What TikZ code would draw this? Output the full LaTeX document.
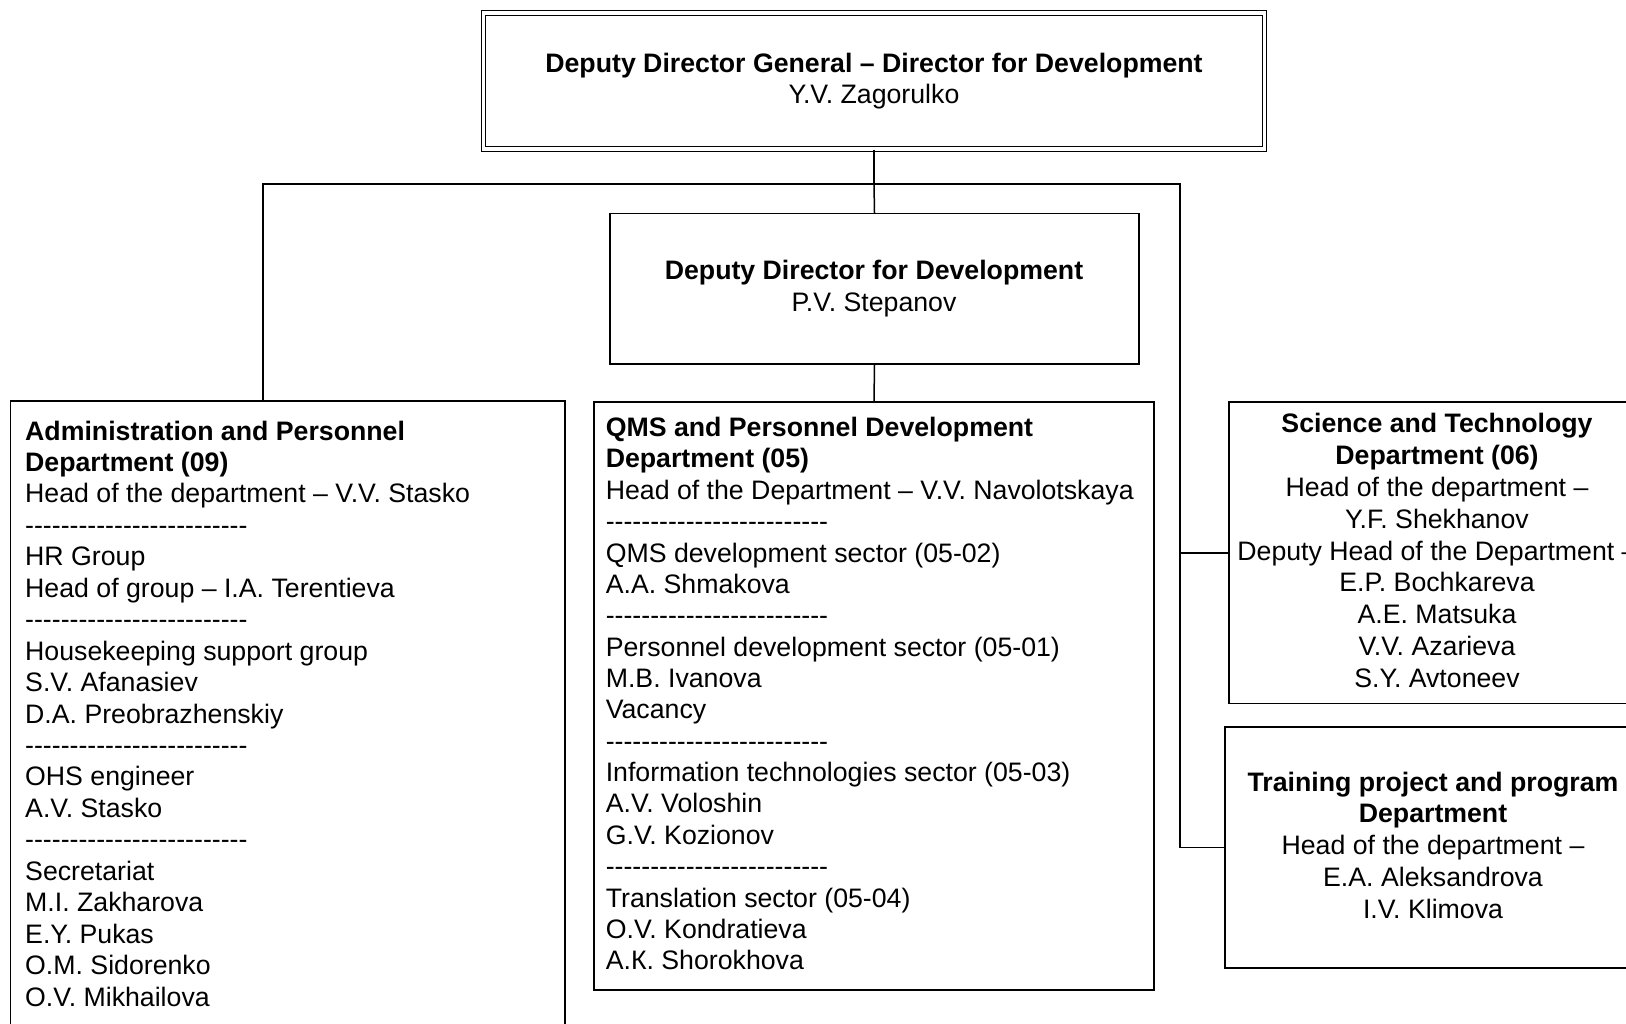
\documentclass[tikz,border=0pt]{standalone}
\usepackage{fontspec}
\setmainfont{Liberation Sans}
\newcommand\hy{-\kern0pt}
\newcommand\dashrow{\hy\hy\hy\hy\hy\hy\hy\hy\hy\hy\hy\hy\hy\hy\hy\hy\hy\hy\hy\hy\hy\hy\hy\hy\hy}
\tikzset{
  box/.style={draw, line width=1.5pt, rectangle, inner sep=0pt},
  txt/.style={inner sep=0pt, font=\fontsize{26.7}{31}\selectfont},
  btxt/.style={inner sep=0pt, font=\fontsize{26.7}{31}\selectfont\bfseries},
  conn/.style={draw, line width=1.5pt}
}
\begin{document}
\begin{tikzpicture}[x=1pt,y=-1pt]
\useasboundingbox (0,0) rectangle (1626,1024);
\clip (0,0) rectangle (1626,1024);
\fill[white] (0,0) rectangle (1626,1024);

% boxes
\node[box, double, double distance=3.5pt, line width=1.2pt, minimum width=781pt, minimum height=136pt] (top) at (874,81) {};
\node[box, minimum width=529pt, minimum height=150.4pt] (dep) at (874.5,288.8) {};
\node[box, minimum width=554.6pt, minimum height=700pt] (adm) at (287.7,751) {};
\node[box, minimum width=560pt, minimum height=588pt] (qms) at (874,696) {};
\node[box, minimum width=421pt, minimum height=301.5pt] (sci) at (1439.5,552.75) {};
\node[box, minimum width=425pt, minimum height=241pt] (trn) at (1437.5,847.5) {};

% connectors
\coordinate (jt) at (874,184);
\coordinate (jl) at (263,184);
\coordinate (jr) at (1180,184);
\draw[conn] (top.south) -- (jt);
\draw[conn] (jl |- adm.north) -- (jl) -- (jr) -- (jr |- trn.west) -- (trn.west);
\draw[conn] (jt) -- (dep.north);
\draw[conn] (dep.south) -- (qms.north);
\draw[conn] (jr |- sci.west) -- (sci.west);

% top texts
\node[btxt, anchor=base] (t1) at (874,72.6) {Deputy Director General – Director for Development};
\node[txt, anchor=base] (t2) at (874,103.7) {Y.V. Zagorulko};
\node[btxt, anchor=base] (d1) at (874,280) {Deputy Director for Development};
\node[txt, anchor=base] (d2) at (874,312) {P.V. Stepanov};

% admin
\foreach[count=\i] \s in {{\bfseries Administration and Personnel},{\bfseries Department (09)},
  Head of the department – V.V. Stasko,\dashrow,HR Group,Head of group – I.A. Terentieva,\dashrow,
  Housekeeping support group,S.V. Afanasiev,D.A. Preobrazhenskiy,\dashrow,OHS engineer,A.V. Stasko,\dashrow,
  Secretariat,M.I. Zakharova,E.Y. Pukas,O.M. Sidorenko,O.V. Mikhailova}
  \node[txt, anchor=base west] (a\i) at (25,{440+(\i-1)*31.45}) {\s};

% qms
\foreach[count=\i] \s in {{\bfseries QMS and Personnel Development},{\bfseries Department (05)},
  Head of the Department – V.V. Navolotskaya,\dashrow,QMS development sector (05-02),A.A. Shmakova,\dashrow,
  Personnel development sector (05-01),M.B. Ivanova,Vacancy,\dashrow,
  Information technologies sector (05-03),A.V. Voloshin,G.V. Kozionov,\dashrow,
  Translation sector (05-04),O.V. Kondratieva,A.К. Shorokhova}
  \node[txt, anchor=base west] (q\i) at (605.6,{436.6+(\i-1)*31.36}) {\s};

% science
\foreach[count=\i] \s in {{\bfseries Science and Technology},{\bfseries Department (06)},
  Head of the department –,Y.F. Shekhanov,Deputy Head of the Department –,E.P. Bochkareva,
  A.E. Matsuka,V.V. Azarieva,S.Y. Avtoneev}
  \node[txt, anchor=base] (s\i) at (1437,{432.4+(\i-1)*31.9}) {\s};

% training
\foreach[count=\i] \s in {{\bfseries Training project and program},{\bfseries Department},
  Head of the department –,E.A. Aleksandrova,I.V. Klimova}
  \node[txt, anchor=base] (r\i) at (1433,{791+(\i-1)*31.9}) {\s};
\end{tikzpicture}
\end{document}
